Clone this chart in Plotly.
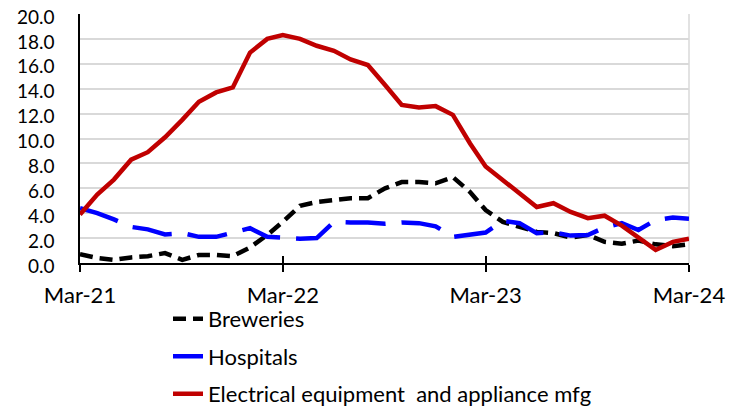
import plotly.graph_objects as go
import pandas as pd

months = pd.date_range("2021-03-01", "2024-03-01", freq="MS")

breweries = [0.7, 0.4, 0.25, 0.45, 0.55, 0.8, 0.25, 0.65, 0.65, 0.55, 1.25, 2.25,
             3.3, 4.6, 4.9, 5.05, 5.2, 5.2, 6.0, 6.5, 6.5, 6.4, 6.9, 5.7,
             4.25, 3.3, 2.95, 2.5, 2.4, 2.05, 2.25, 1.7, 1.55, 1.8, 1.5, 1.35, 1.5]
hospitals = [4.4, 4.0, 3.5, 2.9, 2.7, 2.3, 2.4, 2.1, 2.1, 2.4, 2.8, 2.1,
             2.05, 1.95, 2.0, 3.3, 3.25, 3.25, 3.15, 3.25, 3.2, 2.95, 2.1, 2.3,
             2.45, 3.4, 3.2, 2.4, 2.45, 2.2, 2.25, 2.85, 3.2, 2.65, 3.45, 3.65, 3.55]
electrical = [3.9, 5.5, 6.7, 8.3, 8.9, 10.1, 11.5, 12.95, 13.7, 14.1, 16.9, 18.0,
              18.3, 18.0, 17.45, 17.05, 16.35, 15.9, 14.3, 12.7, 12.5, 12.6, 11.9, 9.6,
              7.75, 6.65, 5.6, 4.5, 4.8, 4.1, 3.6, 3.8, 3.0, 2.05, 1.05, 1.7, 1.95]

tick_dates = ["2021-03-01", "2022-03-01", "2023-03-01", "2024-03-01"]
tick_labels = ["Mar-21", "Mar-22", "Mar-23", "Mar-24"]
y_ticks = [0, 2, 4, 6, 8, 10, 12, 14, 16, 18, 20]

FONT = "Lato"

fig = go.Figure()
fig.add_trace(go.Scatter(x=months, y=breweries, mode="lines", name="Breweries",
                         legendgroup="a",
                         line=dict(color="black", width=4.5, dash="13px,7px")))
fig.add_trace(go.Scatter(x=months, y=hospitals, mode="lines", name="Hospitals",
                         legendgroup="b",
                         line=dict(color="#0000FF", width=4.5, dash="40px,16px")))
fig.add_trace(go.Scatter(x=months, y=electrical, mode="lines",
                         name="Electrical equipment  and appliance mfg",
                         legendgroup="c",
                         line=dict(color="#C00000", width=4.5)))
# overlay axis for inward tick half
fig.add_trace(go.Scatter(x=[months[0], months[-1]], y=[None, None], xaxis="x2",
                         showlegend=False, hoverinfo="skip"))

rng = [months[0], months[-1]]
fig.update_layout(
    width=731, height=403,
    margin=dict(l=72, r=50, t=6, b=148, autoexpand=False),
    paper_bgcolor="white", plot_bgcolor="white",
    font=dict(family=FONT, size=22, color="black"),
    showlegend=True,
    legend=dict(x=0.1445, y=-0.14, xanchor="left", yanchor="top",
                orientation="v", tracegroupgap=6,
                font=dict(family=FONT, size=22, color="black"),
                bgcolor="rgba(0,0,0,0)"),
    xaxis=dict(range=rng, tickvals=tick_dates, ticktext=tick_labels,
               showgrid=False, showline=True, linecolor="black", linewidth=1.5,
               ticks="outside", ticklen=7, tickcolor="black", tickwidth=1.5,
               ticklabelstandoff=5, zeroline=False, automargin=False,
               ticklabeloverflow="allow", tickfont=dict(size=22)),
    xaxis2=dict(range=rng, overlaying="x", tickvals=tick_dates, ticktext=["", "", "", ""],
                showgrid=False, showline=False, ticks="inside", ticklen=7,
                tickcolor="black", tickwidth=1.5, showticklabels=False,
                automargin=False),
    yaxis=dict(range=[0, 20], tickvals=y_ticks,
               ticktext=[f"{v:.1f}" for v in y_ticks],
               showgrid=True, gridcolor="#D9D9D9", gridwidth=1.5,
               showline=True, linecolor="black", linewidth=1.5,
               ticks="outside", ticklen=12, tickcolor="rgba(0,0,0,0)",
               ticklabelstandoff=8, ticklabelshift=3, zeroline=False,
               automargin=False, ticklabeloverflow="allow",
               tickfont=dict(size=19)),
    shapes=[dict(type="line", xref="paper", yref="paper", x0=1, x1=1, y0=0, y1=1,
                 line=dict(color="#D9D9D9", width=1.5), layer="below")],
)

fig.write_html("out.html")
